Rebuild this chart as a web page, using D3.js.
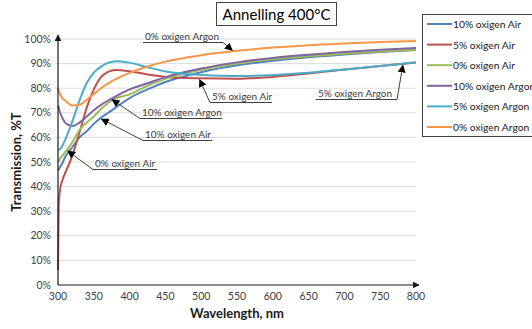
<!DOCTYPE html>
<html>
<head>
<meta charset="utf-8">
<script src="https://cdn.jsdelivr.net/npm/d3@7"></script>
<style>
  html, body { margin: 0; padding: 0; background: #fff; }
  svg { display: block; font-family: Lato, "Open Sans", sans-serif; }
</style>
</head>
<body>
<svg id="chart" width="532" height="329"></svg>
<script>
// Wavelength grid (nm) shared by all spectra
const wavelengths = [300, 301, 303, 306, 310, 320, 330, 340, 350, 360, 370, 380, 400, 425, 450, 500, 550, 600, 650, 700, 750, 800];

// Transmission (%) for each film, sampled on the grid above
const air10   = [46.5, 47, 48, 49.5, 52, 56, 60, 62.5, 65.5, 68, 70, 72, 76, 79.5, 82.5, 86.5, 89.3, 91.2, 92.6, 93.7, 94.7, 95.5];
const air5    = [6, 33, 39, 42.5, 45.5, 52.5, 62, 72, 79.5, 84.5, 86.6, 87.4, 86.9, 85.6, 84.6, 84, 83.8, 84.6, 86, 87.6, 89, 90.4];
const air0    = [50, 50.5, 51.5, 52.5, 54, 58, 63, 66, 68.5, 71.5, 74, 75.8, 77.5, 81, 83.8, 87.5, 90, 91.8, 93, 94, 94.9, 95.6];
const argon10 = [73, 72, 70, 68, 66, 64.6, 66, 68.5, 71, 73.2, 75, 76.6, 79.5, 82, 84.5, 88, 90.5, 92.3, 93.6, 94.7, 95.6, 96.3];
const argon5  = [55, 55, 55.3, 56.5, 59, 66.5, 75, 82, 86.3, 88.8, 90.3, 91, 90.4, 88.5, 86.8, 85.4, 85, 85.3, 86.3, 87.6, 89, 90.5];
const argon0  = [80, 79, 77.5, 76, 75, 73, 73.3, 75.3, 77.7, 80, 82, 83.6, 86.2, 88.8, 90.8, 93.4, 95.2, 96.5, 97.5, 98.2, 98.8, 99.2];

const seriesNames = ["10% oxigen Air", "5% oxigen Air", "0% oxigen Air", "10% oxigen Argon", "5% oxigen Argon", "0% oxigen Argon"];
const seriesValues = [air10, air5, air0, argon10, argon5, argon0];
const seriesColors = ["#4F81BD", "#C0504D", "#9BBB59", "#8064A2", "#4BACC6", "#F79646"];

const xTicks = [300, 350, 400, 450, 500, 550, 600, 650, 700, 750, 800];
const yTicks = [0, 10, 20, 30, 40, 50, 60, 70, 80, 90, 100];

// Callouts: which series and wavelength each arrow points at
const calloutSeries = [5, 1, 3, 0, 2, 4];
const calloutWavelength = [545, 497, 374, 359, 312, 782];

const svg = d3.select("#chart");
const plotLeft = 58, plotRight = 416, plotTop = 39, plotBottom = 285;

const x = d3.scaleLinear().domain([300, 800]).range([plotLeft, plotRight]);
const y = d3.scaleLinear().domain([0, 100]).range([plotBottom, plotTop]);

// gridlines
svg.append("g").selectAll("line").data(yTicks.filter(d => d > 0)).join("line")
  .attr("x1", plotLeft - 3).attr("x2", plotRight)
  .attr("y1", d => y(d)).attr("y2", d => y(d))
  .attr("stroke", "#dcdcdc").attr("stroke-width", 1);

// tick labels
svg.append("g").selectAll("text").data(yTicks).join("text")
  .attr("x", plotLeft - 7).attr("y", d => y(d) + 3.5)
  .attr("text-anchor", "end").attr("font-size", 10.5).attr("fill", "#404040")
  .text(d => d + "%");
svg.append("g").selectAll("text").data(xTicks).join("text")
  .attr("x", d => x(d)).attr("y", plotBottom + 15)
  .attr("text-anchor", "middle").attr("font-size", 10.5).attr("fill", "#404040")
  .text(d => d);

// arrowheads
const defs = svg.append("defs");
defs.append("marker").attr("id", "axisArrow")
  .attr("viewBox", "0 0 10 10").attr("refX", 9).attr("refY", 5)
  .attr("markerWidth", 7).attr("markerHeight", 7).attr("markerUnits", "userSpaceOnUse")
  .attr("orient", "auto")
  .append("path").attr("d", "M0,0 L10,5 L0,10 Z").attr("fill", "#1a1a1a");
defs.append("marker").attr("id", "calloutArrow")
  .attr("viewBox", "0 0 10 10").attr("refX", 9).attr("refY", 5)
  .attr("markerWidth", 8).attr("markerHeight", 8).attr("markerUnits", "userSpaceOnUse")
  .attr("orient", "auto")
  .append("path").attr("d", "M0,0 L10,5 L0,10 Z").attr("fill", "#000");

// series lines
const line = d3.line()
  .x((d, i) => x(wavelengths[i]))
  .y(d => y(d))
  .curve(d3.curveMonotoneX);

svg.append("g").selectAll("path").data(seriesValues).join("path")
  .attr("d", d => line(d))
  .attr("fill", "none")
  .attr("stroke", (d, i) => seriesColors[i])
  .attr("stroke-width", 2)
  .attr("stroke-linejoin", "round");

// axes with arrows
svg.append("line").attr("x1", plotLeft).attr("x2", plotLeft).attr("y1", plotBottom).attr("y2", plotTop - 4)
  .attr("stroke", "#1a1a1a").attr("stroke-width", 1.2).attr("marker-end", "url(#axisArrow)");
svg.append("line").attr("x1", plotLeft).attr("x2", plotRight + 3).attr("y1", plotBottom).attr("y2", plotBottom)
  .attr("stroke", "#1a1a1a").attr("stroke-width", 1.2).attr("marker-end", "url(#axisArrow)");

// axis titles
svg.append("text").attr("x", (plotLeft + plotRight) / 2).attr("y", 318)
  .attr("text-anchor", "middle").attr("font-size", 13).attr("font-weight", "bold").attr("fill", "#1a1a1a")
  .text("Wavelength, nm");
svg.append("text").attr("transform", "translate(21," + (plotTop + plotBottom) / 2 + ") rotate(-90)")
  .attr("text-anchor", "middle").attr("font-size", 13).attr("font-weight", "bold").attr("fill", "#1a1a1a")
  .text("Transmission, %T");

// title
svg.append("rect").attr("x", 216.5).attr("y", 2.5).attr("width", 120).attr("height", 23)
  .attr("fill", "#fff").attr("stroke", "#404040").attr("stroke-width", 1);
svg.append("text").attr("x", 276.5).attr("y", 19.5).attr("text-anchor", "middle")
  .attr("font-size", 15).attr("fill", "#000").text("Annelling 400°C");

// value on a series at any wavelength (linear between samples)
function valueAt(vals, w) {
  const i = Math.max(1, d3.bisectLeft(wavelengths, w));
  const w0 = wavelengths[i - 1], w1 = wavelengths[i];
  const t = (w - w0) / (w1 - w0);
  return vals[i - 1] + t * (vals[i] - vals[i - 1]);
}

// callout label placement: text x, baseline, underline length, side the leader leaves from
const calloutLayout = [
  { tx: 145, ty: 40, w: 78, from: "end" },
  { tx: 212, ty: 100, w: 60, from: "start" },
  { tx: 142, ty: 116, w: 80, from: "start" },
  { tx: 145, ty: 138, w: 67, from: "start" },
  { tx: 95,  ty: 167, w: 62, from: "start" },
  { tx: 318, ty: 97,  w: 79, from: "end" }
];

const callouts = svg.append("g");
calloutSeries.forEach((s, k) => {
  const L = calloutLayout[k];
  const uy = L.ty + 2.5;
  callouts.append("text").attr("x", L.tx).attr("y", L.ty)
    .attr("font-size", 10).attr("fill", "#404040").text(seriesNames[s]);
  callouts.append("line").attr("x1", L.tx - 2).attr("x2", L.tx + L.w).attr("y1", uy).attr("y2", uy)
    .attr("stroke", "#404040").attr("stroke-width", 1);
  const sx = L.from === "end" ? L.tx + L.w : L.tx - 2;
  const w = calloutWavelength[k];
  const tx = x(w), ty = y(valueAt(seriesValues[s], w));
  // stop the arrow just short of the curve
  const dx = tx - sx, dy = ty - uy, len = Math.hypot(dx, dy);
  const ex = tx - dx / len * 1.5, ey = ty - dy / len * 1.5;
  callouts.append("line").attr("x1", sx).attr("y1", uy).attr("x2", ex).attr("y2", ey)
    .attr("stroke", "#404040").attr("stroke-width", 1).attr("marker-end", "url(#calloutArrow)");
});

// legend
const legend = svg.append("g");
legend.append("rect").attr("x", 422.5).attr("y", 14.5).attr("width", 115).attr("height", 122)
  .attr("fill", "#fff").attr("stroke", "#404040").attr("stroke-width", 1);
seriesNames.forEach((name, i) => {
  const ly = 24 + i * 20.6;
  legend.append("line").attr("x1", 427).attr("x2", 452).attr("y1", ly).attr("y2", ly)
    .attr("stroke", seriesColors[i]).attr("stroke-width", 2);
  legend.append("text").attr("x", 453).attr("y", ly + 4).attr("font-size", 10.3).attr("fill", "#1a1a1a")
    .text(name);
});
</script>
</body>
</html>
